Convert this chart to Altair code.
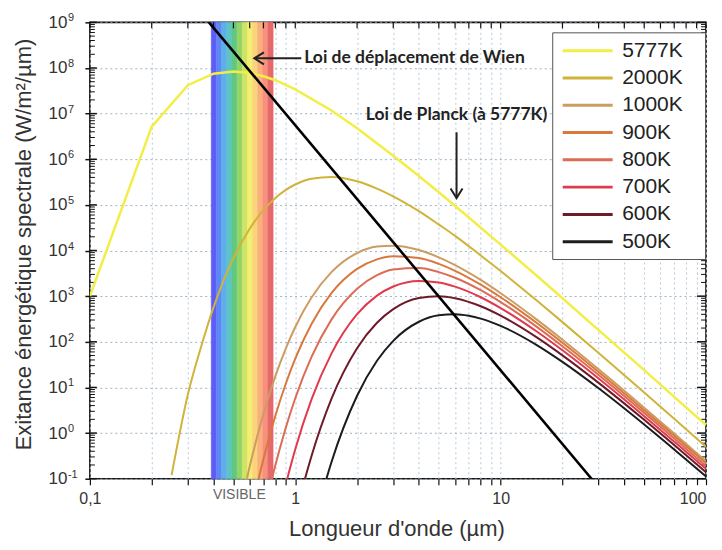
import altair as alt
import pandas as pd

W, H = 617, 457

# ---------------- data ----------------
TEMPS = ["5777K", "2000K", "1000K", "900K", "800K", "700K", "600K", "500K"]
COLORS = ["#f2ee45", "#d0b43a", "#cc9c60", "#d9783c", "#dc6c55", "#e03a4c", "#6e1a28", "#1c1c1c"]

LAM_5777 = [0.1, 0.2, 0.3, 0.4, 0.5, 0.6, 0.7, 0.8, 1.0, 1.5, 2, 3, 4, 5, 7, 10, 15, 20, 30, 50, 70, 100]
M_5777 = [1.0e3, 5.2e6, 4.2e7, 7.5e7, 8.4e7, 7.8e7, 6.6e7, 5.4e7, 3.4e7, 1.17e7, 4.8e6, 1.2e6, 4.3e5,
          1.9e5, 5.3e4, 1.35e4, 2.8e3, 9.0e2, 1.8e2, 24, 6.2, 1.5]

LAM_2000 = [0.25, 0.3, 0.35, 0.4, 0.5, 0.6, 0.7, 0.8, 0.9, 1.0, 1.2, 1.5, 2, 2.5, 3, 4, 5, 6, 8, 10,
            15, 20, 30, 50, 70, 100]
M_2000 = [0.12, 7.0, 85, 5.7e2, 6.8e3, 3.0e4, 7.7e4, 1.42e5, 2.14e5, 2.8e5, 3.75e5, 4.1e5, 3.3e5,
          2.28e5, 1.54e5, 7.3e4, 3.7e4, 2.1e4, 7.8e3, 3.55e3, 8.0e2, 2.7e2, 57, 7.7, 2.06, 0.50]

LAM_1000 = [0.55, 0.6, 0.7, 0.8, 0.9, 1.0, 1.2, 1.5, 2, 2.5, 3, 4, 5, 6, 8, 10, 15, 20, 30, 50, 70, 100]
M_1000 = [0.032, 0.185, 2.64, 17.7, 72, 211, 933, 3.36e3, 8.8e3, 1.22e4, 1.28e4, 1.03e4, 7.1e3,
          4.8e3, 2.27e3, 1.16e3, 306, 111, 25, 3.6, 0.98, 0.24]

LAM_900 = [0.6, 0.65, 0.7, 0.8, 0.9, 1.0, 1.2, 1.5, 2, 2.5, 3, 4, 5, 6, 8, 10, 15, 20, 30, 50, 70, 100]
M_900 = [0.013, 0.067, 0.27, 2.39, 12.2, 42.7, 246, 1.16e3, 3.95e3, 6.4e3, 7.5e3, 6.84e3, 5.1e3,
         3.6e3, 1.79e3, 948, 259, 95.5, 21.9, 3.18, 0.87, 0.216]

LAM_800 = [0.7, 0.75, 0.8, 0.9, 1.0, 1.2, 1.5, 2, 2.5, 3, 4, 5, 6, 8, 10, 15, 20, 30, 50, 70, 100]
M_800 = [0.0155, 0.061, 0.197, 1.33, 5.79, 46.6, 306, 1.45e3, 2.88e3, 3.84e3, 4.12e3, 3.37e3,
         2.53e3, 1.35e3, 742, 213, 80.2, 18.8, 2.77, 0.76, 0.19]

LAM_700 = [0.8, 0.85, 0.9, 1.0, 1.2, 1.5, 2, 2.5, 3, 4, 5, 6, 8, 10, 15, 20, 30, 50, 70, 100]
M_700 = [0.0079, 0.027, 0.076, 0.443, 5.48, 55.1, 402, 1.03e3, 1.63e3, 2.16e3, 2.0e3, 1.62e3, 948,
         549, 168, 65.1, 15.7, 2.35, 0.65, 0.164]

LAM_600 = [1.0, 1.1, 1.2, 1.5, 2, 2.5, 3, 4, 5, 6, 8, 10, 15, 20, 30, 50, 70, 100]
M_600 = [0.0144, 0.079, 0.315, 5.62, 72.5, 262, 520, 912, 997, 901, 600, 374, 125, 50.5, 12.6,
         1.95, 0.545, 0.138]

LAM_500 = [1.2, 1.3, 1.4, 1.5, 2, 2.5, 3, 4, 5, 6, 7, 8, 10, 15, 20, 30, 50, 70, 100]
M_500 = [0.0058, 0.0246, 0.082, 0.23, 6.59, 38.4, 105, 275, 380, 401, 371, 322, 223, 84.8, 36.3,
         9.57, 1.54, 0.438, 0.112]

# Wien displacement line (end points read on the frame)
WIEN_LAM = [0.38, 27.7]
WIEN_M = [1e9, 0.1]

# visible band strips
VIS_EDGES = [0.390, 0.413, 0.438, 0.464, 0.491, 0.521, 0.552, 0.585, 0.619, 0.656, 0.695, 0.737, 0.780]
VIS_COLORS = ["#5d5cf6", "#5f86f6", "#5eaeea", "#5cc4c4", "#60c880", "#92d468", "#cde466",
              "#f3ee72", "#fad37a", "#f9b07c", "#f7917e", "#e5696b"]

# axes
X_DECADES = [0.1, 1, 10]
Y_DEC = [0.1, 1, 10, 100, 1e3, 1e4, 1e5, 1e6, 1e7, 1e8, 1e9]
Y_EXP = ["-1", "0", "1", "2", "3", "4", "5", "6", "7", "8", "9"]
X_LABELS = {0.1: "0,1", 1: "1", 10: "10", 100: "100"}

# annotations
WIEN_TXT = "Loi de déplacement de Wien"
PLANCK_TXT = "Loi de Planck (à 5777K)"

# ---------------- build tables ----------------
LAMS = [LAM_5777, LAM_2000, LAM_1000, LAM_900, LAM_800, LAM_700, LAM_600, LAM_500]
MS = [M_5777, M_2000, M_1000, M_900, M_800, M_700, M_600, M_500]
rows = []
for t, lams, ms in zip(TEMPS, LAMS, MS):
    rows += [{"T": t, "lam": l, "M": m} for l, m in zip(lams, ms)]
curves = pd.DataFrame(rows)
sun = curves[curves["T"] == "5777K"]
others = curves[curves["T"] != "5777K"]

wien = pd.DataFrame({"lam": WIEN_LAM, "M": WIEN_M})
band = pd.DataFrame({"lo": VIS_EDGES[:-1], "hi": VIS_EDGES[1:], "c": VIS_COLORS,
                     "y0": [1e9] * len(VIS_COLORS), "y1": [0.1] * len(VIS_COLORS)})

X_TICKS = [m * d for d in X_DECADES for m in range(1, 10)] + [100]
Y_MINOR = [m * d for d in Y_DEC[:-1] for m in range(2, 10)]
xt = pd.DataFrame({"v": X_TICKS})
ymin = pd.DataFrame({"v": Y_MINOR})
ymaj = pd.DataFrame({"v": Y_DEC, "e": Y_EXP})

xs = alt.Scale(type="log", domain=[0.1, 100], nice=False)
ys = alt.Scale(type="log", domain=[0.1, 1e9], nice=False)

FONT = "Liberation Sans"
x_label_expr = " : ".join(f"datum.value == {k} ? '{v}'" for k, v in X_LABELS.items()) + " : ''"

XA = alt.Axis(values=X_TICKS, labelExpr=x_label_expr, labelOverlap=False, labelFlush=False,
              labelAlign=alt.condition("datum.value == 100", alt.value("right"), alt.value("center")),
              grid=True, gridColor="#b8c7d8", gridDash=[2, 3], gridWidth=1,
              tickSize=6, tickColor="#111", tickWidth=1.2, domain=False,
              labelFont=FONT, labelFontSize=16, labelColor="#333", labelPadding=6,
              title="Longueur d'onde (µm)", titleFont=FONT, titleFontSize=22,
              titleFontWeight="normal", titleColor="#333", titleX=307, titleY=57,
              titleBaseline="alphabetic", titleAlign="center")
YA = alt.Axis(values=Y_DEC, labelExpr="'10'", labelOverlap=False, labelFlush=False,
              grid=True, gridColor="#9fb2c6", gridDash=[2, 3], gridWidth=1,
              tickSize=5, tickColor="#111", tickWidth=1.5, domain=False,
              labelFont=FONT, labelFontSize=17, labelColor="#333", labelPadding=18,
              labelBaseline="middle",
              title="Exitance énergétique spectrale (W/m²/µm)", titleFont=FONT,
              titleFontSize=22, titleFontWeight="normal", titleColor="#333",
              titleX=-66, titleY=222, titleAngle=270, titleBaseline="middle",
              titleAlign="center")


def X(field):
    return alt.X(field, scale=xs, axis=XA)


def Y(field):
    return alt.Y(field, scale=ys, axis=YA)


# visible band
band_l = alt.Chart(band).mark_rect(strokeWidth=0.6).encode(
    x=X("lo:Q"), x2="hi:Q", y=Y("y0:Q"), y2="y1:Q",
    fill=alt.Fill("c:N", scale=None),
    stroke=alt.Stroke("c:N", scale=None),
)

# inward ticks (top, left minor/major, right)
top_ticks = alt.Chart(xt).mark_rule(color="#111", strokeWidth=1.2).encode(
    x=X("v:Q"), y=alt.value(0), y2=alt.value(6))
left_minor = alt.Chart(ymin).mark_rule(color="#111", strokeWidth=1).encode(
    y=Y("v:Q"), x=alt.value(0), x2=alt.value(5))
left_major = alt.Chart(ymaj).mark_rule(color="#111", strokeWidth=1.5).encode(
    y=Y("v:Q"), x=alt.value(0), x2=alt.value(7))
right_minor = alt.Chart(ymin).mark_rule(color="#111", strokeWidth=1).encode(
    y=Y("v:Q"), x=alt.value(W - 5), x2=alt.value(W))
right_major = alt.Chart(ymaj).mark_rule(color="#111", strokeWidth=1.5).encode(
    y=Y("v:Q"), x=alt.value(W - 9), x2=alt.value(W))
exps = alt.Chart(ymaj).mark_text(align="left", baseline="alphabetic", fontSize=11, font=FONT,
                                 color="#333", dy=-1).encode(
    y=Y("v:Q"), x=alt.value(-22), text="e:N")

color_scale = alt.Scale(domain=TEMPS, range=COLORS)
# invisible right-hand title only widens the legend box
legend = alt.Legend(title="WW", titleOrient="right", titleOpacity=0, titleFontSize=7.5,
                    titlePadding=0,
                    orient="none", legendX=463, legendY=10,
                    symbolType="M -2.5 0 L 2.5 0", symbolSize=400, symbolStrokeWidth=3,
                    symbolOffset=17, labelOffset=23,
                    labelFont=FONT, labelFontSize=21,
                    labelColor="#222", strokeColor="#555", fillColor="white", padding=7,
                    rowPadding=5.3)

others_l = alt.Chart(others).mark_line(clip=True, strokeWidth=2, interpolate="monotone").encode(
    x=X("lam:Q"), y=Y("M:Q"),
    color=alt.Color("T:N", scale=color_scale, legend=legend, sort=TEMPS),
    detail="T:N",
)
sun_l = alt.Chart(sun).mark_line(clip=True, strokeWidth=2.5).encode(
    x=X("lam:Q"), y=Y("M:Q"),
    color=alt.Color("T:N", scale=color_scale, legend=legend, sort=TEMPS),
)
wien_l = alt.Chart(wien).mark_line(clip=True, strokeWidth=2.6, color="black").encode(
    x=X("lam:Q"), y=Y("M:Q"))

# annotations
wtxt = pd.DataFrame({"lam": [1.106], "M": [1.63e8], "t": [WIEN_TXT]})
ptxt = pd.DataFrame({"lam": [6.1], "M": [9.2e6], "t": [PLANCK_TXT]})
wshaft = pd.DataFrame({"a": [0.64], "b": [1.07], "M": [1.63e8]})
pshaft = pd.DataFrame({"lam": [6.1], "a": [3.9e6], "b": [1.45e5]})
whead = pd.DataFrame({"lam": [0.632], "M": [1.63e8]})
phead = pd.DataFrame({"lam": [6.1], "M": [1.41e5]})
vis = pd.DataFrame({"lam": [0.534], "t": ["VISIBLE"]})

wien_text = alt.Chart(wtxt).mark_text(align="left", baseline="middle", font="Lato",
                                      fontWeight="bold", fontSize=17.5, color="#222").encode(
    x=X("lam:Q"), y=Y("M:Q"), text="t:N")
planck_text = alt.Chart(ptxt).mark_text(align="center", baseline="middle", font="Lato",
                                        fontWeight="bold", fontSize=17.5, color="#222").encode(
    x=X("lam:Q"), y=Y("M:Q"), text="t:N")
wien_shaft = alt.Chart(wshaft).mark_rule(color="#222", strokeWidth=2).encode(
    x=X("a:Q"), x2="b:Q", y=Y("M:Q"))
planck_shaft = alt.Chart(pshaft).mark_rule(color="#222", strokeWidth=2).encode(
    x=X("lam:Q"), y=Y("a:Q"), y2="b:Q")
wien_head = alt.Chart(whead).mark_point(shape="M 1.6 -1 L 0 0 L 1.6 1", filled=False, size=144,
                                        strokeWidth=2, color="#222", opacity=1).encode(
    x=X("lam:Q"), y=Y("M:Q"))
planck_head = alt.Chart(phead).mark_point(shape="M -1 -1.6 L 0 0 L 1 -1.6", filled=False, size=144,
                                          strokeWidth=2, color="#222", opacity=1).encode(
    x=X("lam:Q"), y=Y("M:Q"))
vis_text = alt.Chart(vis).mark_text(align="center", baseline="middle", font=FONT, fontSize=14,
                                    color="#666").encode(
    x=X("lam:Q"), y=alt.value(H + 16), text="t:N")

chart = alt.layer(
    band_l, top_ticks, left_minor, left_major, right_minor, right_major, exps,
    others_l, sun_l, wien_l, wien_shaft, planck_shaft, wien_head, planck_head,
    wien_text, planck_text, vis_text,
).properties(
    width=W, height=H,
    autosize=alt.AutoSizeParams(type="none"),
    padding={"left": 82, "top": 14, "right": 8, "bottom": 62},
    background="white",
).configure_view(stroke="#111", strokeWidth=1.6)

chart.save("out.html", embed_options={"renderer": "svg", "actions": False})
